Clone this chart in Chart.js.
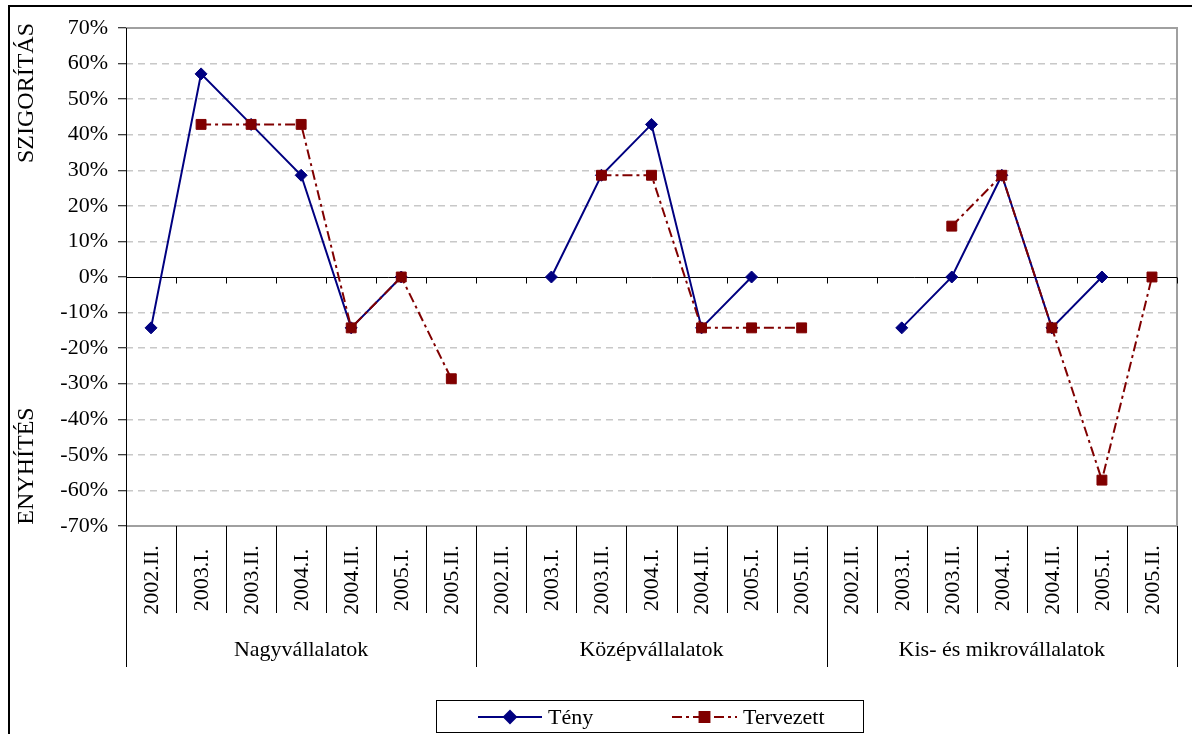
<!DOCTYPE html>
<html>
<head>
<meta charset="utf-8">
<script src="https://cdn.jsdelivr.net/npm/chart.js@4.4.1/dist/chart.umd.min.js"></script>
<style>
  html, body { margin: 0; padding: 0; background: #fff; }
  canvas { display: block; }
</style>
</head>
<body>
<canvas id="c" width="1194" height="734"></canvas>
<script>
// Survey periods repeated inside every company-size group
const periods = ['2002.II.', '2003.I.', '2003.II.', '2004.I.', '2004.II.', '2005.I.', '2005.II.'];
const groups = ['Nagyvállalatok', 'Középvállalatok', 'Kis- és mikrovállalatok'];

// Net balance of tightening (%), actual
const tenyNagy  = [-14.3, 57.1, 42.9, 28.6, -14.3, 0, null];
const tenyKozep = [null, 0, 28.6, 42.9, -14.3, 0, null];
const tenyKis   = [null, -14.3, 0, 28.6, -14.3, 0, null];

// Net balance of tightening (%), planned
const tervNagy  = [null, 42.9, 42.9, 42.9, -14.3, 0, -28.6];
const tervKozep = [null, null, 28.6, 28.6, -14.3, -14.3, -14.3];
const tervKis   = [null, null, 14.3, 28.6, -14.3, -57.1, 0];

// Value axis
const yMin = -70, yMax = 70, yStep = 10;
const axisTitleTop = 'SZIGORÍTÁS';
const axisTitleBottom = 'ENYHÍTÉS';

const labels = groups.flatMap(() => periods);
const teny = [...tenyNagy, ...tenyKozep, ...tenyKis];
const tervezett = [...tervNagy, ...tervKozep, ...tervKis];

const SERIF = '"Liberation Serif", "DejaVu Serif", serif';

function boundaries(x) {
  const n = x.getLabels().length;
  const half = (x.getPixelForValue(1) - x.getPixelForValue(0)) / 2;
  const b = [];
  for (let k = 0; k <= n; k++) {
    b.push(k < n ? x.getPixelForValue(k) - half : x.getPixelForValue(n - 1) + half);
  }
  return b;
}

const px = v => Math.round(v) + 0.5;

const framePlugin = {
  id: 'frame',
  beforeDatasetsDraw(chart) {
    const { ctx, chartArea: a, scales: { x, y } } = chart;
    ctx.save();
    // plot area border
    ctx.strokeStyle = '#a0a0a0';
    ctx.lineWidth = 2;
    ctx.beginPath();
    ctx.moveTo(a.left, a.top);
    ctx.lineTo(a.right, a.top);
    ctx.lineTo(a.right, a.bottom);
    ctx.lineTo(a.left, a.bottom);
    ctx.stroke();
    // zero line with category ticks
    const y0 = px(y.getPixelForValue(0));
    ctx.strokeStyle = '#000';
    ctx.lineWidth = 1;
    ctx.beginPath();
    ctx.moveTo(a.left, y0);
    ctx.lineTo(a.right, y0);
    const b = boundaries(x);
    for (let k = 1; k < b.length; k++) {
      ctx.moveTo(px(b[k]), y0);
      ctx.lineTo(px(b[k]), y0 + 6);
    }
    ctx.stroke();
    ctx.restore();
  },
  afterDraw(chart) {
    const { ctx, chartArea: a, scales: { x }, data } = chart;
    const b = boundaries(x);
    const per = periods.length;
    ctx.save();
    ctx.strokeStyle = '#000';
    ctx.lineWidth = 1;
    // value axis line, continuing down as the first group separator
    ctx.beginPath();
    ctx.moveTo(px(a.left), a.top);
    ctx.lineTo(px(a.left), 667);
    // category and group separators below the plot
    for (let k = 1; k < b.length; k++) {
      const isGroup = k % per === 0;
      ctx.moveTo(px(b[k]), a.bottom);
      ctx.lineTo(px(b[k]), isGroup ? 667 : 613);
    }
    ctx.stroke();

    // rotated period labels
    ctx.fillStyle = '#000';
    ctx.font = '22px ' + SERIF;
    ctx.textAlign = 'center';
    ctx.textBaseline = 'middle';
    labels.forEach((lab, i) => {
      ctx.save();
      ctx.translate(x.getPixelForValue(i) + 1, 580);
      ctx.rotate(-Math.PI / 2);
      ctx.fillText(lab, 0, 0);
      ctx.restore();
    });

    // group labels
    ctx.font = '22px ' + SERIF;
    groups.forEach((g, gi) => {
      const cx = (b[gi * per] + b[(gi + 1) * per]) / 2;
      ctx.fillText(g, cx, 650);
    });

    // value axis titles
    ctx.font = '24px ' + SERIF;
    [[axisTitleTop, 93], [axisTitleBottom, 466]].forEach(([t, cy]) => {
      ctx.save();
      ctx.translate(27, cy);
      ctx.rotate(-Math.PI / 2);
      ctx.fillText(t, 0, 0);
      ctx.restore();
    });

    // outer border
    ctx.beginPath();
    ctx.lineWidth = 2;
    ctx.moveTo(9, 734);
    ctx.lineTo(9, 6);
    ctx.lineTo(1192, 6);
    ctx.stroke();

    // legend
    ctx.lineWidth = 1;
    ctx.strokeRect(436.5, 700.5, 427, 32);
    const ly = 717;
    const items = [
      { ds: data.datasets[0], x0: 478, x1: 542, tx: 548 },
      { ds: data.datasets[1], x0: 672, x1: 737, tx: 743 }
    ];
    ctx.textAlign = 'left';
    ctx.font = '22px ' + SERIF;
    items.forEach(it => {
      const ds = it.ds;
      ctx.save();
      ctx.strokeStyle = ds.borderColor;
      ctx.lineWidth = ds.borderWidth;
      ctx.setLineDash(ds.borderDash || []);
      ctx.beginPath();
      ctx.moveTo(it.x0, ly);
      ctx.lineTo(it.x1, ly);
      ctx.stroke();
      ctx.setLineDash([]);
      ctx.fillStyle = ds.pointBackgroundColor;
      ctx.strokeStyle = ds.pointBorderColor;
      Chart.helpers.drawPoint(ctx, {
        pointStyle: ds.pointStyle, radius: ds.pointRadius, rotation: 0, borderWidth: 1
      }, (it.x0 + it.x1) / 2, ly);
      ctx.restore();
      ctx.fillStyle = '#000';
      ctx.fillText(ds.label, it.tx, ly + 1);
    });
    ctx.restore();
  }
};

new Chart(document.getElementById('c'), {
  type: 'line',
  data: {
    labels,
    datasets: [
      {
        label: 'Tény',
        data: teny,
        borderColor: '#000080',
        backgroundColor: '#000080',
        borderWidth: 2,
        pointStyle: 'rectRot',
        pointRadius: 6,
        pointBackgroundColor: '#000080',
        pointBorderColor: '#000080',
        pointBorderWidth: 1,
        tension: 0,
        spanGaps: false,
        order: 2
      },
      {
        label: 'Tervezett',
        data: tervezett,
        borderColor: '#800000',
        backgroundColor: '#800000',
        borderWidth: 2,
        borderDash: [10, 4, 3, 4],
        pointStyle: 'rect',
        pointRadius: 7,
        pointBackgroundColor: '#800000',
        pointBorderColor: '#800000',
        pointBorderWidth: 1,
        tension: 0,
        spanGaps: false,
        order: 1
      }
    ]
  },
  options: {
    responsive: false,
    devicePixelRatio: 1,
    animation: false,
    events: [],
    layout: { padding: { top: 28, right: 17, left: 0, bottom: 0 } },
    plugins: { legend: { display: false }, tooltip: { enabled: false } },
    scales: {
      x: {
        type: 'category',
        offset: true,
        grid: { display: false },
        border: { display: false },
        ticks: { display: false },
        afterFit: s => { s.height = 208; }
      },
      y: {
        min: yMin,
        max: yMax,
        border: { display: false, dash: [7, 5] },
        grid: {
          color: c => (c.tick && (c.tick.value === 0 || c.tick.value === yMin || c.tick.value === yMax)) ? 'rgba(0,0,0,0)' : '#c8c8c8',
          lineWidth: 1.5,
          tickColor: '#000',
          tickLength: 8,
          tickWidth: 1
        },
        ticks: {
          stepSize: yStep,
          padding: 10,
          color: '#000',
          font: { family: SERIF, size: 22 },
          callback: v => v + '%'
        },
        afterFit: s => { s.width = 126; }
      }
    }
  },
  plugins: [framePlugin]
});
</script>
</body>
</html>
